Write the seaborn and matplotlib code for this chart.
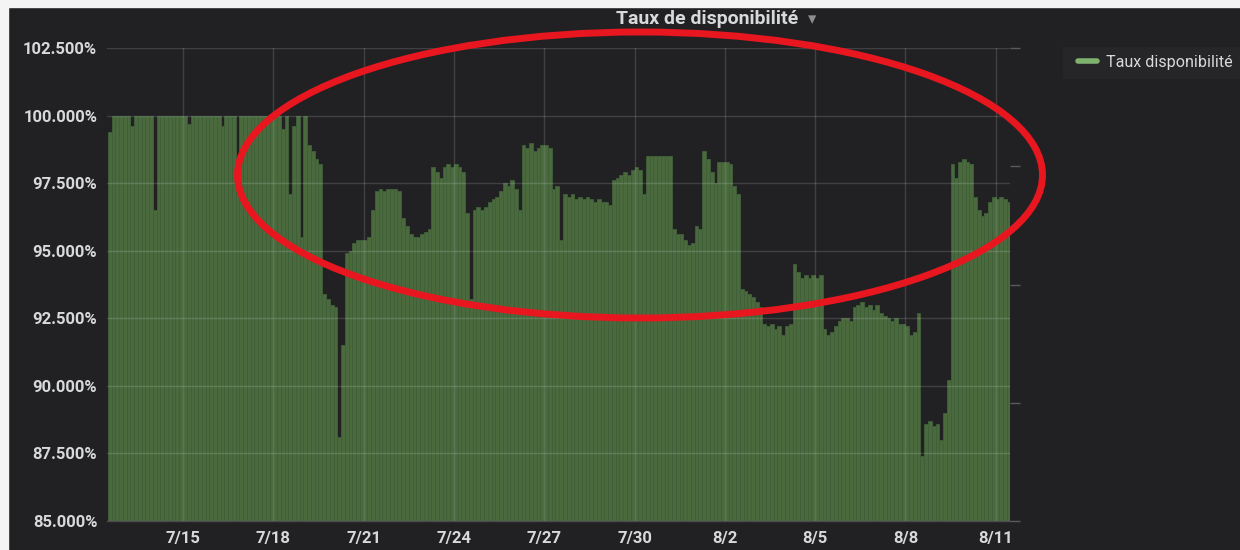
import matplotlib
matplotlib.use("Agg")
import matplotlib.pyplot as plt
import matplotlib.dates as mdates
from matplotlib.lines import Line2D
from matplotlib.patches import Ellipse, Rectangle
import pandas as pd
import seaborn as sns

# 3-hour availability samples (%)
start = "2019-07-12 12:00"
step = "3h"

jul12_18 = [99.4, 100, 100, 100,
            100, 100, 99.6, 100, 100, 100, 100, 100,
            96.5, 100, 100, 100, 100, 100, 100, 100,
            100, 99.7, 100, 100, 100, 100, 100, 100,
            100, 100, 99.6, 100, 100, 100, 97.9, 100,
            100, 100, 100, 100, 100, 100, 100, 100,
            100, 100, 99.5, 100, 97.1, 99.6, 100, 95.5]
jul19_25 = [100, 98.9, 98.7, 98.4, 98.2, 93.4, 93.2, 93.0,
            92.9, 88.1, 91.5, 94.9, 95.0, 95.3, 95.4, 95.4,
            95.4, 95.5, 96.5, 97.2, 97.3, 97.2, 97.3, 97.3,
            97.3, 97.2, 96.2, 95.9, 95.6, 95.5, 95.5, 95.6,
            95.7, 95.8, 98.1, 97.9, 97.7, 98.1, 98.2, 98.1,
            98.2, 98.1, 97.9, 96.4, 93.2, 96.5, 96.6, 96.5,
            96.6, 96.8, 96.9, 97.0, 97.2, 97.5, 97.4, 97.6]
jul26_aug1 = [97.3, 96.5, 98.9, 98.8, 99.0, 98.7, 98.8, 98.9,
              98.9, 98.8, 97.3, 97.4, 95.4, 97.1, 97.0, 97.1,
              96.9, 97.0, 96.9, 97.0, 96.9, 96.8, 96.9, 96.8,
              96.8, 96.7, 97.6, 97.7, 97.8, 97.9, 97.8, 98.0,
              98.1, 98.0, 97.1, 98.5, 98.5, 98.5, 98.5, 98.5,
              98.5, 98.5, 95.8, 95.6, 95.6, 95.4, 95.2, 95.3,
              95.9, 95.8, 98.7, 98.4, 97.9, 97.5, 98.3, 98.3]
aug2_8 = [98.3, 98.2, 97.4, 97.1, 93.6, 93.5, 93.4, 93.3,
          93.1, 92.9, 92.3, 92.2, 92.3, 92.1, 92.2, 91.9,
          92.2, 92.3, 94.5, 94.2, 94.0, 94.1, 94.0, 94.1,
          94.0, 94.1, 92.1, 91.9, 92.0, 92.2, 92.4, 92.5,
          92.5, 92.4, 92.9, 93.0, 93.1, 92.9, 93.0, 92.8,
          93.0, 92.7, 92.6, 92.5, 92.4, 92.5, 92.3, 92.3,
          92.2, 91.9, 92.0, 92.7, 87.4, 88.6, 88.7, 88.5]
aug9_11 = [88.6, 88.0, 89.0, 90.2, 98.2, 97.7, 98.3, 98.4,
           98.3, 98.2, 97.0, 96.5, 96.3, 96.4, 96.8, 97.0,
           96.9, 97.0, 96.9, 96.8]

tick_dates = ["2019-07-15", "2019-07-18", "2019-07-21", "2019-07-24", "2019-07-27",
              "2019-07-30", "2019-08-02", "2019-08-05", "2019-08-08", "2019-08-11"]
tick_labels = ["7/15", "7/18", "7/21", "7/24", "7/27", "7/30", "8/2", "8/5", "8/8", "8/11"]
y_ticks = [85, 87.5, 90, 92.5, 95, 97.5, 100, 102.5]
title = "Taux de disponibilité"
series_name = "Taux disponibilité"

values = jul12_18 + jul19_25 + jul26_aug1 + aug2_8 + aug9_11
times = pd.date_range(start, periods=len(values), freq=step)
df = pd.DataFrame({"t": mdates.date2num(times + pd.Timedelta(step) / 2), "value": values})

PANEL = "#212124"
TEXT = "#d8d9da"
GREEN = "#7eb26d"

sns.set_theme(style="dark", rc={"axes.facecolor": PANEL, "figure.facecolor": PANEL})
plt.rcParams["font.family"] = ["Roboto", "DejaVu Sans"]

fig = plt.figure(figsize=(12.4, 5.5), dpi=100)
# light screenshot frame on top / left
fig.add_artist(Rectangle((0, 1 - 7 / 550), 1, 7 / 550, transform=fig.transFigure,
                         color="#f4f4f4", zorder=0))
fig.add_artist(Rectangle((0, 0), 8 / 1240, 1, transform=fig.transFigure,
                         color="#f4f4f4", zorder=0))

ax = fig.add_axes([107 / 1240, 1 - 521 / 550, 903 / 1240, 473 / 550])
sns.barplot(data=df, x="t", y="value", native_scale=True, orient="x", width=1.0,
            color="#4a6a3e", saturation=1, edgecolor="#40603a", linewidth=0.6,
            errorbar=None, ax=ax)

ax.set_ylim(85, 102.5)
ax.set_xlim(mdates.date2num(pd.Timestamp("2019-07-12 11:24")),
            mdates.date2num(pd.Timestamp("2019-08-11 11:24")))
ax.set_yticks(y_ticks)
ax.set_yticklabels([f"{v:.3f}%" for v in y_ticks])
ax.set_xticks(mdates.date2num(pd.to_datetime(tick_dates)))
ax.set_xticklabels(tick_labels)
ax.set_xlabel("")
ax.set_ylabel("")
ax.grid(True, color="white", alpha=0.14, linewidth=1)
ax.set_axisbelow(False)
ax.tick_params(length=0, colors=TEXT, labelsize=12, pad=7)
for lab in ax.get_xticklabels() + ax.get_yticklabels():
    lab.set_fontweight("bold")
for side in ["top", "right", "left"]:
    ax.spines[side].set_visible(False)
ax.spines["bottom"].set_color("#4a4a4d")
ax.spines["bottom"].set_linewidth(1)

# empty right axis, only its tick marks show
ax2 = ax.twinx()
ax2.set_ylim(0, 4)
ax2.set_yticks(range(5))
ax2.set_yticklabels([])
ax2.tick_params(axis="y", length=7, color="#5a5a5d", width=1, pad=0)
ax2.grid(False)
for side in ax2.spines:
    ax2.spines[side].set_visible(False)

fig.text(707 / 1240, 1 - 19 / 550, title, ha="center", va="center", color=TEXT,
         fontsize=14, fontweight="bold")
fig.text(812 / 1240, 1 - 19 / 550, "\u25be", ha="center", va="center", color="#8e8e8e",
         fontsize=12, family=["DejaVu Sans"])

# legend box
fig.add_artist(Rectangle((1063 / 1240, 1 - 78 / 550), 177 / 1240, 31 / 550,
                         transform=fig.transFigure, color="#262629", zorder=1))
leg = fig.legend(handles=[Line2D([], [], color=GREEN, lw=4, solid_capstyle="round")],
                 labels=[series_name], loc="center left",
                 bbox_to_anchor=(1078 / 1240, 1 - 62 / 550), frameon=False,
                 fontsize=11.6, handlelength=1.15, handletextpad=0.6,
                 borderpad=0, borderaxespad=0)
for t in leg.get_texts():
    t.set_color(TEXT)

# red hand-drawn circle
fig.add_artist(Ellipse((640 / 1240, 1 - 175 / 550), 805 / 1240, 286 / 550,
                       transform=fig.transFigure, fill=False, edgecolor="#e8161e",
                       linewidth=5, zorder=10))

fig.savefig("out.png", dpi=100, facecolor=fig.get_facecolor())
